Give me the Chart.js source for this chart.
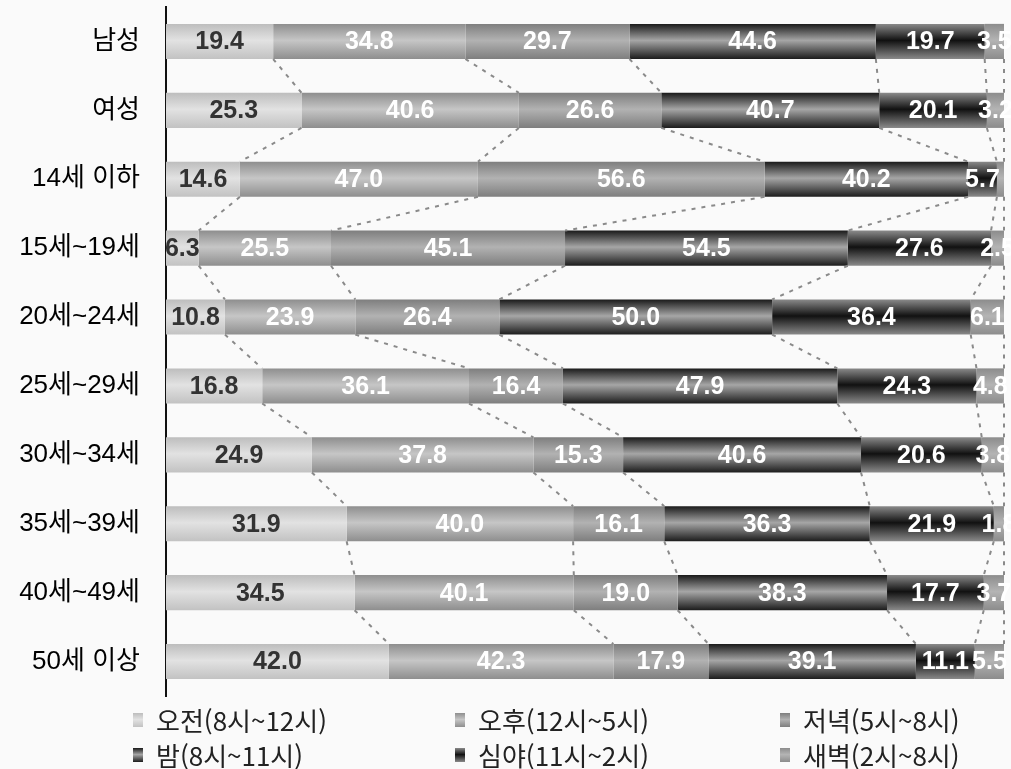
<!DOCTYPE html>
<html lang="ko">
<head>
<meta charset="utf-8">
<title>성별/연령별 시간대</title>
<script src="https://cdn.jsdelivr.net/npm/chart.js@4.4.1/dist/chart.umd.min.js"></script>
<style>
    html, body { margin: 0; padding: 0; background: #fafafa; }
    body { width: 1011px; height: 769px; position: relative; overflow: hidden; }
    #chartBox { position: absolute; left: 0; top: 0; width: 1011px; height: 769px; }
    .chart-title {
        position: absolute; left: 0; top: -25px; width: 1011px; text-align: center;
        font: bold 24px/24px "Noto Sans CJK KR", sans-serif; color: #111;
    }
    .legend {
        position: absolute; left: 133px; top: 702px;
        display: grid; grid-template-columns: 322px 325px 220px;
    }
    .legend-item {
        display: flex; align-items: center; height: 35px;
        font: 26px "Noto Sans CJK KR", sans-serif; color: #222;
    }
    .swatch { width: 10px; height: 14px; margin-right: 13px; }
</style>
</head>
<body>
<div class="chart-title">성별/연령별 시간대</div>
<div id="chartBox"><canvas id="timeChart"></canvas></div>
<div class="legend" id="legend"></div>

<script>
// Data
const categories = ['남성', '여성', '14세 이하', '15세~19세', '20세~24세', '25세~29세', '30세~34세', '35세~39세', '40세~49세', '50세 이상'];
const seriesNames = ['오전(8시~12시)', '오후(12시~5시)', '저녁(5시~8시)', '밤(8시~11시)', '심야(11시~2시)', '새벽(2시~8시)'];
const morning   = [19.4, 25.3, 14.6, 6.3, 10.8, 16.8, 24.9, 31.9, 34.5, 42.0];
const afternoon = [34.8, 40.6, 47.0, 25.5, 23.9, 36.1, 37.8, 40.0, 40.1, 42.3];
const evening   = [29.7, 26.6, 56.6, 45.1, 26.4, 16.4, 15.3, 16.1, 19.0, 17.9];
const night     = [44.6, 40.7, 40.2, 54.5, 50.0, 47.9, 40.6, 36.3, 38.3, 39.1];
const lateNight = [19.7, 20.1, 5.7, 27.6, 36.4, 24.3, 20.6, 21.9, 17.7, 11.1];
const dawn      = [3.5, 3.2, 1.4, 2.5, 6.1, 4.8, 3.8, 1.8, 3.7, 5.5];

const seriesValues = [morning, afternoon, evening, night, lateNight, dawn];

// top / middle / bottom shading of each series (cylinder look)
const shades = [
    ['#bdbdbd', '#e2e2e2', '#c2c2c2'],
    ['#8e8e8e', '#c6c6c6', '#8e8e8e'],
    ['#7e7e7e', '#b2b2b2', '#7e7e7e'],
    ['#1a1a1a', '#a6a6a6', '#1c1c1c'],
    ['#8a8a8a', '#111111', '#8a8a8a'],
    ['#8c8c8c', '#b4b4b4', '#8c8c8c']
];
const labelColors = ['#333333', '#ffffff', '#ffffff', '#ffffff', '#ffffff', '#ffffff'];
const BAR_PCT = 0.51;

// each bar is drawn as a share of its row total (100% stacked)
const rowTotals = categories.map((_, i) => seriesValues.reduce((s, arr) => s + arr[i], 0));

function barFill(stops) {
    return (ctx) => {
        const chart = ctx.chart;
        const yScale = chart.scales.y;
        if (ctx.type !== 'data' || !yScale || !chart.chartArea) return stops[1];
        const yc = yScale.getPixelForValue(ctx.dataIndex);
        const half = (yScale.bottom - yScale.top) / categories.length * BAR_PCT / 2;
        const g = chart.ctx.createLinearGradient(0, yc - half, 0, yc + half);
        g.addColorStop(0, stops[0]);
        g.addColorStop(0.47, stops[1]);
        g.addColorStop(1, stops[2]);
        return g;
    };
}

// Dashed series lines between neighbouring bars
const seriesLinesPlugin = {
    id: 'seriesLines',
    afterDatasetsDraw(chart) {
        const ctx = chart.ctx;
        ctx.save();
        ctx.strokeStyle = '#8a8a8a';
        ctx.lineWidth = 2;
        ctx.setLineDash([4, 6]);
        chart.data.datasets.forEach((ds, d) => {
            const bars = chart.getDatasetMeta(d).data;
            for (let i = 0; i < bars.length - 1; i++) {
                const a = bars[i].getProps(['x', 'y', 'height'], true);
                const b = bars[i + 1].getProps(['x', 'y', 'height'], true);
                ctx.beginPath();
                ctx.moveTo(a.x, a.y + a.height / 2);
                ctx.lineTo(b.x, b.y - b.height / 2);
                ctx.stroke();
            }
        });
        ctx.restore();
    }
};

// Raw values printed in the middle of each segment (skip slivers too thin to hold one)
const valueLabelsPlugin = {
    id: 'valueLabels',
    afterDatasetsDraw(chart) {
        const ctx = chart.ctx;
        ctx.save();
        ctx.font = 'bold 25px "Liberation Sans", Arial, sans-serif';
        ctx.textAlign = 'center';
        ctx.textBaseline = 'middle';
        chart.data.datasets.forEach((ds, d) => {
            ctx.fillStyle = labelColors[d];
            chart.getDatasetMeta(d).data.forEach((bar, i) => {
                const p = bar.getProps(['x', 'y', 'base'], true);
                if (Math.abs(p.x - p.base) < 8) return;
                ctx.fillText(ds.rawValues[i].toFixed(1), (p.x + p.base) / 2, p.y + 1);
            });
        });
        ctx.restore();
    }
};

const datasets = seriesNames.map((name, s) => ({
    label: name,
    data: seriesValues[s].map((v, i) => v / rowTotals[i] * 100),
    rawValues: seriesValues[s],
    backgroundColor: barFill(shades[s]),
    borderWidth: 0,
    barPercentage: BAR_PCT,
    categoryPercentage: 1
}));

new Chart(document.getElementById('timeChart'), {
    type: 'bar',
    data: { labels: categories, datasets: datasets },
    options: {
        indexAxis: 'y',
        responsive: true,
        maintainAspectRatio: false,
        animation: false,
        layout: { padding: { top: 7, right: 7, bottom: 73, left: 0 } },
        plugins: {
            legend: { display: false },
            tooltip: { enabled: false },
            title: { display: false }
        },
        scales: {
            x: { stacked: true, min: 0, max: 100, display: false },
            y: {
                stacked: true,
                grid: { display: false, drawTicks: false },
                border: { display: true, color: '#111', width: 2 },
                afterFit: (scale) => {
                    scale.width = 166;
                    scale.paddingTop = 0;
                    scale.paddingBottom = 0;
                },
                ticks: {
                    color: '#000',
                    padding: 26,
                    font: { family: '"Liberation Sans", "Noto Sans CJK KR", sans-serif', size: 26 }
                }
            }
        }
    },
    plugins: [seriesLinesPlugin, valueLabelsPlugin]
});

// HTML legend, three columns
const legendEl = document.getElementById('legend');
seriesNames.forEach((name, s) => {
    const item = document.createElement('div');
    item.className = 'legend-item';
    const sh = shades[s];
    item.innerHTML = `<span class="swatch" style="background: linear-gradient(${sh[0]}, ${sh[1]} 47%, ${sh[2]})"></span>${name}`;
    legendEl.appendChild(item);
});
</script>
</body>
</html>
